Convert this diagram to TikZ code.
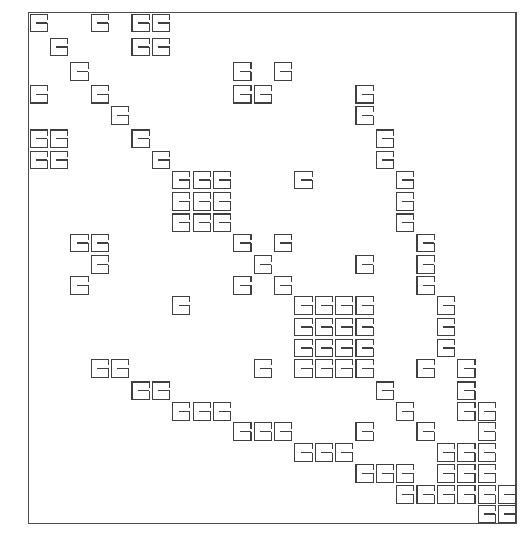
\documentclass[tikz,border=0pt]{standalone}
\begin{document}
\begin{tikzpicture}[x=1pt,y=-1pt,
  glyphline/.style={line width=1.1pt, draw=black!75, line join=miter},
  framebox/.style={line width=1.3pt, draw=black!70},
  pics/glyph/.style={code={
    \draw[glyphline] (8.6,0) -- (8.6,8.8) -- (-8.6,8.8) -- (-8.6,-8.8) -- (8.6,-8.8) -- (8.6,-3.2);
    \draw[glyphline] (8.6,0) -- (-2.8,0);
  }}]
\useasboundingbox (0,0) rectangle (523,533);
\fill[white] (0,0) rectangle (523,533);
\draw[framebox] (28.3,12.5) rectangle (516,523.5);
\def\rowys{{23,47,71.7,94.2,115.5,138.8,160,180,201.7,222.8,243,264.7,285.3,305.3,327,348,368.3,390.8,411.3,431.7,452.5,473.3,494.5,514}}
\foreach \r/\cols in {
  1/{1,4,6,7},
  2/{2,6,7},
  3/{3,11,13},
  4/{1,4,11,12,17},
  5/{5,17},
  6/{1,2,6,18},
  7/{1,2,7,18},
  8/{8,9,10,14,19},
  9/{8,9,10,19},
  10/{8,9,10,19},
  11/{3,4,11,13,20},
  12/{4,12,17,20},
  13/{3,11,13,20},
  14/{8,14,15,16,17,21},
  15/{14,15,16,17,21},
  16/{14,15,16,17,21},
  17/{4,5,12,14,15,16,17,20,22},
  18/{6,7,18,22},
  19/{8,9,10,19,22,23},
  20/{11,12,13,17,20,23},
  21/{14,15,16,21,22,23},
  22/{17,18,19,21,22,23},
  23/{19,20,21,22,23,24},
  24/{23,24}} {
  \pgfmathsetmacro\yy{\rowys[\r-1]}
  \foreach \c in \cols {
    \pgfmathsetmacro\xx{38.8+20.36*(\c-1)}
    \pic at (\xx,\yy) {glyph};
  }
}
\end{tikzpicture}
\end{document}
